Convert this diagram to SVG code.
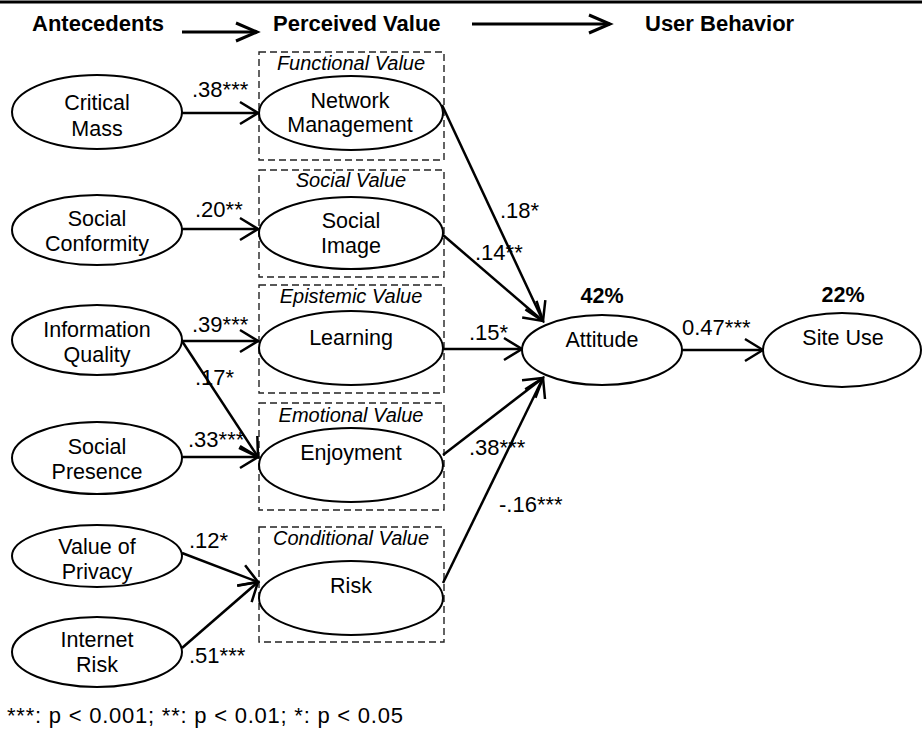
<svg xmlns="http://www.w3.org/2000/svg" width="922" height="729" viewBox="0 0 922 729">
<style>
text{font-family:"Liberation Sans",Arial,sans-serif;fill:#000}
.h{font-size:22px;font-weight:bold}
.n{font-size:21.5px;text-anchor:middle}
.b{font-size:20px;font-style:italic;text-anchor:middle}
.l{font-size:22px}
.e{fill:#fff;stroke:#000;stroke-width:2}
.box{fill:none;stroke:#222;stroke-width:1.4;stroke-dasharray:7 4}
.c{stroke:#000;stroke-width:2.5;fill:none;marker-end:url(#ah)}
.ha{stroke:#000;stroke-width:3;fill:none;marker-end:url(#hh)}
</style>
<defs>
<marker id="ah" markerUnits="userSpaceOnUse" markerWidth="24" markerHeight="26" refX="19" refY="12" orient="auto" overflow="visible">
<path d="M1,1 L19,12 L1,23" fill="none" stroke="#000" stroke-width="2.5"/>
</marker>
<marker id="hh" markerUnits="userSpaceOnUse" markerWidth="26" markerHeight="22" refX="22" refY="10" orient="auto" overflow="visible">
<path d="M1,1 L22,10 L1,19" fill="none" stroke="#000" stroke-width="3"/>
</marker>
</defs>
<rect x="0" y="0.5" width="922" height="3" fill="#000"/>
<g id="header">
<text class="h" x="32" y="31">Antecedents</text>
<text class="h" x="273" y="31">Perceived Value</text>
<text class="h" x="645" y="31">User Behavior</text>
<line class="ha" x1="182" y1="32" x2="257" y2="32"/>
<line class="ha" x1="472" y1="24" x2="610" y2="24"/>
</g>
<g id="boxes">
<rect class="box" x="259" y="52" width="185" height="108"/>
<text class="b" x="351" y="70">Functional Value</text>
<rect class="box" x="259" y="170" width="185" height="107"/>
<text class="b" x="351" y="187">Social Value</text>
<rect class="box" x="259" y="285" width="185" height="108"/>
<text class="b" x="351" y="303">Epistemic Value</text>
<rect class="box" x="259" y="403" width="185" height="107"/>
<text class="b" x="351" y="422">Emotional Value</text>
<rect class="box" x="259" y="527" width="185" height="115"/>
<text class="b" x="351" y="545">Conditional Value</text>
</g>
<g id="connectors">
<line class="c" x1="182" y1="113" x2="258" y2="113"/>
<line class="c" x1="182" y1="229" x2="258" y2="229"/>
<line class="c" x1="182" y1="341" x2="258" y2="341"/>
<line class="c" x1="182" y1="341" x2="258" y2="457"/>
<line class="c" x1="182" y1="457" x2="258" y2="457"/>
<line class="c" x1="182" y1="553" x2="258" y2="582"/>
<line class="c" x1="182" y1="648" x2="258" y2="582"/>
<line class="c" x1="442" y1="105" x2="543" y2="321"/>
<line class="c" x1="443" y1="235" x2="543" y2="321"/>
<line class="c" x1="443" y1="349" x2="522" y2="349"/>
<line class="c" x1="443" y1="455" x2="543" y2="378"/>
<line class="c" x1="443" y1="583" x2="543" y2="378"/>
<line class="c" x1="682" y1="350" x2="763" y2="350"/>
</g>
<g id="labels">
<text class="l" x="192" y="97">.38***</text>
<text class="l" x="195" y="217">.20**</text>
<text class="l" x="192" y="332">.39***</text>
<text class="l" x="195" y="385">.17*</text>
<text class="l" x="188" y="447">.33***</text>
<text class="l" x="189" y="548">.12*</text>
<text class="l" x="189" y="663">.51***</text>
<text class="l" x="500" y="218">.18*</text>
<text class="l" x="475" y="260">.14**</text>
<text class="l" x="469" y="340">.15*</text>
<text class="l" x="469" y="455">.38***</text>
<text class="l" x="499" y="512">-.16***</text>
<text class="l" x="682" y="335">0.47***</text>
</g>
<g id="critical-mass"><ellipse class="e" cx="97" cy="112" rx="85" ry="37"/><text class="n" x="97" y="110">Critical</text><text class="n" x="97" y="136">Mass</text></g>
<g id="social-conformity"><ellipse class="e" cx="97" cy="230" rx="85" ry="35"/><text class="n" x="97" y="226">Social</text><text class="n" x="97" y="251">Conformity</text></g>
<g id="information-quality"><ellipse class="e" cx="97" cy="340" rx="85" ry="35"/><text class="n" x="97" y="337">Information</text><text class="n" x="97" y="362">Quality</text></g>
<g id="social-presence"><ellipse class="e" cx="97" cy="458" rx="85" ry="36"/><text class="n" x="97" y="454">Social</text><text class="n" x="97" y="479">Presence</text></g>
<g id="value-of-privacy"><ellipse class="e" cx="97" cy="556" rx="85" ry="31"/><text class="n" x="97" y="554">Value of</text><text class="n" x="97" y="579">Privacy</text></g>
<g id="internet-risk"><ellipse class="e" cx="97" cy="652" rx="85" ry="35"/><text class="n" x="97" y="647">Internet</text><text class="n" x="97" y="672">Risk</text></g>
<g id="network-management"><ellipse class="e" cx="351" cy="113" rx="92" ry="37"/><text class="n" x="350" y="108">Network</text><text class="n" x="350" y="132">Management</text></g>
<g id="social-image"><ellipse class="e" cx="351" cy="233" rx="92" ry="36"/><text class="n" x="351" y="228">Social</text><text class="n" x="351" y="253">Image</text></g>
<g id="learning"><ellipse class="e" cx="351" cy="348" rx="92" ry="37"/><text class="n" x="351" y="345">Learning</text></g>
<g id="enjoyment"><ellipse class="e" cx="351" cy="465" rx="92" ry="37"/><text class="n" x="351" y="460">Enjoyment</text></g>
<g id="risk"><ellipse class="e" cx="351" cy="598" rx="92" ry="37"/><text class="n" x="351" y="593">Risk</text></g>
<g id="attitude"><ellipse class="e" cx="602" cy="350" rx="80" ry="35"/><text class="n" x="602" y="347">Attitude</text><text class="n h" x="602" y="303">42%</text></g>
<g id="site-use"><ellipse class="e" cx="842" cy="350" rx="79" ry="37"/><text class="n" x="843" y="345">Site Use</text><text class="n h" x="843" y="302">22%</text></g>
<text class="l" x="7" y="723" textLength="396" lengthAdjust="spacing">***: p &lt; 0.001; **: p &lt; 0.01; *: p &lt; 0.05</text>
</svg>
